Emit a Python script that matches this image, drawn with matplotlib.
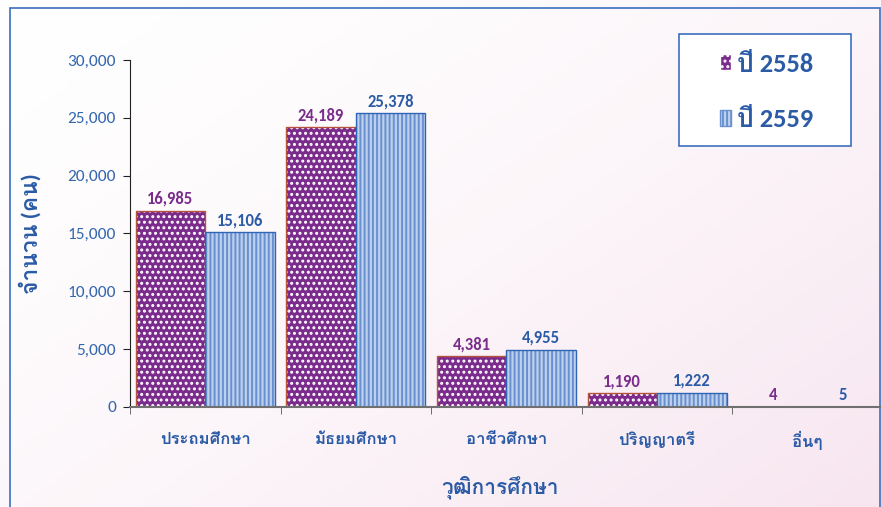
import numpy as np
import matplotlib
matplotlib.use("Agg")
import matplotlib.pyplot as plt
from matplotlib.patches import Patch, Rectangle

# data
categories = ["ประถมศึกษา", "มัธยมศึกษา", "อาชีวศึกษา", "ปริญญาตรี", "อื่นๆ"]
y2558 = [16985, 24189, 4381, 1190, 4]
y2559 = [15106, 25378, 4955, 1222, 5]
series_names = ["ปี 2558", "ปี 2559"]
yticks = [0, 5000, 10000, 15000, 20000, 25000, 30000]

# Carlito for digits (Calibri-like), Loma for the Thai glyphs
plt.rcParams["font.family"] = ["Carlito", "Loma", "DejaVu Sans"]
plt.rcParams["hatch.linewidth"] = 1.4

purple = "#7B2B8C"
purple_txt = "#7A2D8C"
stripe_bg = "#BDD0EE"
stripe = "#6890CE"
blue_txt = "#2B5BA6"
tick_blue = "#3466AE"
frame_blue = "#3C6FBF"

fig = plt.figure(figsize=(8.81, 5.07), dpi=100)

# faint background
bg = fig.add_axes([0, 0, 1, 1], zorder=-10)
gx, gy = np.meshgrid(np.linspace(0, 1, 200), np.linspace(0, 1, 120))
g = np.clip(0.55 * gx + 0.45 * gy, 0, 1) ** 1.5
img = np.ones((120, 200, 3))
img[..., 0] = 1 - g * 0.03
img[..., 1] = 1 - g * 0.10
img[..., 2] = 1 - g * 0.06
bg.imshow(img, extent=[0, 1, 0, 1], aspect="auto", origin="upper")
bg.set_axis_off()
# outer frame
fig.patches.append(Rectangle((10 / 881, -0.1), 870 / 881, 1.1 - 8 / 507, transform=fig.transFigure,
                             fill=False, edgecolor=frame_blue, linewidth=1.2, zorder=-5))

ax = fig.add_axes([130 / 881, 100 / 507, 753 / 881, 347 / 507])
ax.patch.set_alpha(0)

x = np.arange(len(categories))
w = 0.462
b1 = ax.bar(x - w / 2, y2558, w, color=purple, edgecolor="white", hatch="...", linewidth=0)
ax.bar(x - w / 2, y2558, w, fill=False, edgecolor="#B5533C", linewidth=1)
b2 = ax.bar(x + w / 2, y2559, w, color=stripe_bg, edgecolor=stripe, hatch="||||", linewidth=0)
ax.bar(x + w / 2, y2559, w, fill=False, edgecolor="#2F65B5", linewidth=1)

ax.bar_label(b1, labels=[f"{v:,}" for v in y2558], padding=3, color=purple_txt,
             fontsize=12, fontweight="bold")
ax.bar_label(b2, labels=[f"{v:,}" for v in y2559], padding=3, color=blue_txt,
             fontsize=12, fontweight="bold")

ax.set_xlim(-0.5, len(categories) - 0.5)
ax.set_ylim(0, 30000)
ax.set_yticks(yticks)
ax.set_yticklabels([f"{v:,}" for v in yticks], color=tick_blue, fontsize=12.5)
ax.set_xticks(x)
ax.set_xticklabels(categories, color=blue_txt, fontsize=12, fontweight="bold")
ax.set_xticks(np.arange(len(categories) + 1) - 0.5, minor=True)
ax.tick_params(axis="x", which="major", length=0, pad=17)
ax.tick_params(axis="x", which="minor", length=5, color="#555555")
ax.tick_params(axis="y", length=5, color="#222222", pad=5)
for s in ["top", "right"]:
    ax.spines[s].set_visible(False)
ax.spines["left"].set_color("#222222")
ax.spines["bottom"].set_color("#707070")
ax.spines["bottom"].set_linewidth(1.5)

ax.set_xlabel("วุฒิการศึกษา", color=blue_txt, fontsize=15, fontweight="bold")
ax.xaxis.set_label_coords((500 - 130) / 753, -68 / 347)
ax.set_ylabel("จำนวน (คน)", color=blue_txt, fontsize=16.5, fontweight="bold")
ax.yaxis.set_label_coords(-88 / 753, 0.5)

# legend box drawn as its own frame, entries placed inside it
fig.patches.append(Rectangle((679 / 881, 1 - 146 / 507), 172 / 881, 112 / 507,
                             transform=fig.transFigure, facecolor="white",
                             edgecolor=frame_blue, linewidth=1.2, zorder=-5))
handles = [Patch(facecolor=purple, edgecolor="white", hatch="..."),
           Patch(facecolor=stripe_bg, edgecolor=stripe, hatch="||||")]
leg = ax.legend(handles, series_names, loc="center left",
                bbox_to_anchor=(720 / 881, 1 - 92 / 507), bbox_transform=fig.transFigure,
                frameon=False, fontsize=19,
                handlelength=0.4, handleheight=0.55, handletextpad=0.25,
                labelspacing=1.25, borderpad=0, borderaxespad=0)
for t in leg.get_texts():
    t.set_color(blue_txt)
    t.set_fontweight("bold")

fig.savefig("out.png", dpi=100)
